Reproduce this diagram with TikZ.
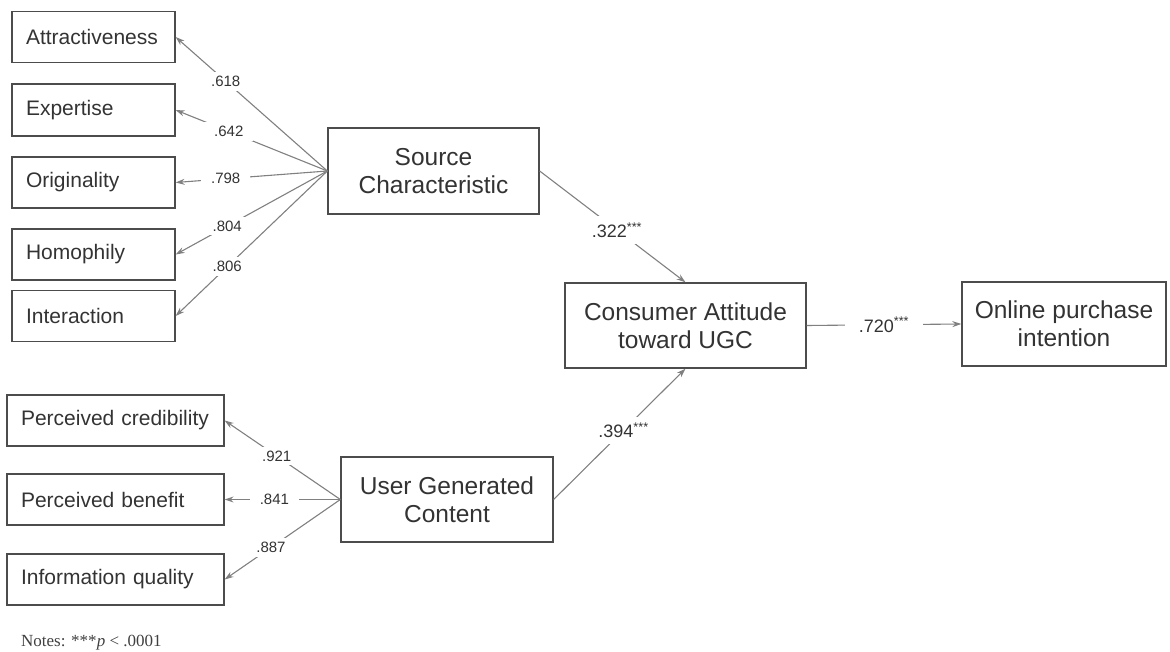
\documentclass[tikz,border=0pt]{standalone}
\usepackage{fontspec}
\setmainfont{Liberation Sans}
\newfontfamily\notesfont{Liberation Serif}
\usepackage{tikz}
\usetikzlibrary{arrows.meta}

\tikzset{
  box/.style={draw=black!70, line width=1.3pt, text=black!80, inner sep=0pt},
  itembox/.style={box, minimum height=51pt, inner xsep=14pt, align=left, font=\fontsize{21}{25}\selectfont},
  bigbox/.style={box, minimum height=85pt, align=center, font=\fontsize{24.5}{28}\selectfont},
  path/.style={draw=black!50, line width=1.1pt, -{Stealth[length=9pt,width=6pt]}},
  load/.style={fill=white, text=black!80, inner xsep=10pt, inner ysep=4pt, font=\fontsize{15}{18}\selectfont},
  coef/.style={fill=white, text=black!80, inner xsep=14pt, inner ysep=6pt, font=\fontsize{18}{21}\selectfont},
}

\begin{document}
\begin{tikzpicture}[x=1pt, y=-1pt]
\useasboundingbox (0,0) rectangle (1170,652);
%%%%% Indicators %%%%%
\node[itembox, text width=135pt] (attr) at (93.5,37) {Attractiveness};
\node[itembox, text width=135pt, minimum height=52pt] (expe) at (93.5,110) {Expertise};
\node[itembox, text width=135pt] (orig) at (93.5,182.5) {Originality};
\node[itembox, text width=135pt] (homo) at (93.5,254.5) {Homophily};
\node[itembox, text width=135pt] (inte) at (93.5,316) {Interaction};

\node[itembox, text width=189pt] (cred) at (115.5,420.5) {Perceived credibility};
\node[itembox, text width=189pt] (bene) at (115.5,499.5) {Perceived benefit};
\node[itembox, text width=189pt] (info) at (115.5,579.5) {Information quality};

%%%%% Constructs %%%%%
\node[bigbox, minimum width=211pt, minimum height=86pt] (src) at (433.5,171) {Source\\Characteristic};
\node[bigbox, minimum width=212pt] (ugc) at (447,499.5) {User Generated\\Content};
\node[bigbox, minimum width=241pt] (att) at (685.5,325.5) {Consumer Attitude\\toward UGC};
\node[bigbox, minimum width=204pt, minimum height=84pt] (buy) at (1064,324) {Online purchase\\intention};

%%%%% Loadings %%%%%
\draw[path] (src.west) -- node[load, pos=0.67] {.618} (attr.east);
\draw[path] (src.west) -- node[load, pos=0.65] {.642} (expe.east);
\draw[path] (src.west) -- node[load, pos=0.67] {.798} (orig.east);
\draw[path] (src.west) -- node[load, pos=0.66] {.804} (homo.east);
\draw[path] (src.west) -- node[load, pos=0.66] {.806} (inte.east);

\draw[path] (ugc.west) -- node[load, pos=0.55] {.921} (cred.east);
\draw[path] (ugc.west) -- node[load, pos=0.57] {.841} (bene.east);
\draw[path] (ugc.west) -- node[load, pos=0.6] {.887} (info.east);

%%%%% Structural paths %%%%%
\draw[path] (src.east) -- node[coef, pos=0.53] {.322\textsuperscript{***}} (att.north);
\draw[path] (ugc.east) -- node[coef, pos=0.53] {.394\textsuperscript{***}} (att.south);
\draw[path] (att.east) -- node[coef, pos=0.5] {.720\textsuperscript{***}} (buy.west);

%%%%% Notes %%%%%
\node[anchor=west, inner sep=0pt, text=black!75, font=\notesfont\fontsize{17}{20}\selectfont] (notes) at (21,643) {Notes: ***\textit{p} < .0001};
\end{tikzpicture}
\end{document}
